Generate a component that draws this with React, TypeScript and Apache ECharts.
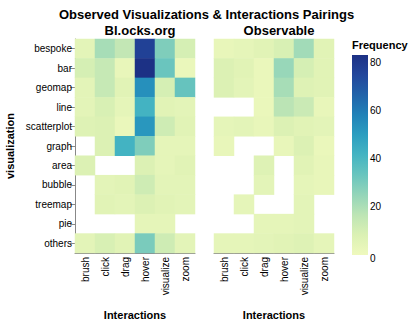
import React, { useEffect, useRef } from "react";
import * as echarts from "echarts";

const interactions = ["brush", "click", "drag", "hover", "visualize", "zoom"];
const visualizations = ["bespoke", "bar", "geomap", "line", "scatterplot", "graph", "area", "bubble", "treemap", "pie", "others"];

// rows follow visualizations, columns follow interactions; null = no observation
const blocksValues: (number | null)[][] = [
  [5, 21, 15, 77, 29, 10],
  [10, 14, 3, 83, 33, 2],
  [5, 14, 6, 54, 10, 34],
  [5, 9, 4, 42, 6, 5],
  [7, 8, 2, 52, 12, 6],
  [null, 8, 42, 29, 4, 4],
  [8, null, null, 8, 4, 6],
  [null, 5, 6, 12, 5, 5],
  [null, 6, 5, 8, 6, 5],
  [null, null, null, 4, 4, null],
  [5, 9, 6, 30, 12, 5],
];
const observableValues: (number | null)[][] = [
  [3, 4, 6, 9, 22, 6],
  [8, 6, 2, 24, 10, 6],
  [8, 5, 2, 21, 7, 6],
  [null, null, 2, 17, 13, 3],
  [4, 5, 3, 8, 6, 5],
  [3, null, null, 3, 8, 2],
  [null, null, 7, null, 6, 3],
  [null, null, 5, null, 4, 3],
  [null, 4, null, null, 5, null],
  [null, null, 4, 4, 5, null],
  [4, 4, 5, 6, 7, 4],
];
const legendTicks = [0, 20, 40, 60, 80];
const maxValue = 83;
const panelTitles = ["Bl.ocks.org", "Observable"];

const colors = ["#eff9bd", "#dbf1b4", "#bde5b5", "#94d5b9", "#69c5be", "#45b4c2", "#2c9ec0", "#2182b8", "#2163aa", "#23479c", "#1c3185"];

function toData(m: (number | null)[][]) {
  const out: [number, number, number][] = [];
  m.forEach((row, y) => row.forEach((v, x) => { if (v !== null) out.push([x, y, v]); }));
  return out;
}

const FONT = "Liberation Sans, Arial, Helvetica, sans-serif";

export default function App() {
  const ref = useRef<HTMLDivElement>(null);
  useEffect(() => {
    if (!ref.current) return;
    const chart = echarts.init(ref.current, undefined, { renderer: "svg" });
    const grids = [
      { left: 75, top: 39, width: 120, height: 220 },
      { left: 214, top: 39, width: 120, height: 220 },
    ];
    const lx = 352, ly = 55, lw = 16, lh = 200;
    const gradStops = colors
      .map((c, i) => ({ offset: 1 - i / (colors.length - 1), color: c }))
      .reverse();
    const legendGraphics: any[] = [
      {
        type: "text",
        left: lx,
        top: 39,
        style: { text: "Frequency", font: `bold 11px ${FONT}`, fill: "#000" },
      },
      {
        type: "rect",
        shape: { x: lx, y: ly, width: lw, height: lh },
        style: {
          fill: {
            type: "linear",
            x: 0,
            y: 0,
            x2: 0,
            y2: 1,
            colorStops: gradStops,
          },
        },
      },
      ...legendTicks.map((t) => ({
        type: "text",
        x: lx + lw + 2,
        y: t === 0 ? ly + lh + 3 : ly + lh - (t / maxValue) * lh,
        style: {
          text: String(t),
          font: `10px ${FONT}`,
          fill: "#000",
          textVerticalAlign: "middle",
          verticalAlign: "middle",
        },
      })),
    ];
    const axisX = (i: number) => ({
      type: "category" as const,
      gridIndex: i,
      data: interactions,
      name: "Interactions",
      nameLocation: "middle" as const,
      nameGap: 56,
      nameTextStyle: { fontFamily: FONT, fontWeight: "bold" as const, fontSize: 11, color: "#000" },
      axisLine: { lineStyle: { color: "#888" } },
      axisTick: { length: 5, alignWithLabel: true, lineStyle: { color: "#888" } },
      axisLabel: { rotate: 90, fontFamily: FONT, fontSize: 10, color: "#000", margin: 4 },
      splitLine: { show: false },
    });
    const axisY = (i: number) => ({
      type: "category" as const,
      gridIndex: i,
      data: visualizations,
      inverse: true,
      name: i === 0 ? "visualization" : "",
      nameLocation: "middle" as const,
      nameGap: 60,
      nameRotate: 90,
      nameTextStyle: { fontFamily: FONT, fontWeight: "bold" as const, fontSize: 11, color: "#000" },
      axisLine: { show: i === 0, lineStyle: { color: "#888" } },
      axisTick: { show: i === 0, length: 5, alignWithLabel: true, lineStyle: { color: "#888" } },
      axisLabel: { show: i === 0, fontFamily: FONT, fontSize: 10, color: "#000", margin: 3 },
      splitLine: { show: false },
    });
    chart.setOption({
      animation: false,
      backgroundColor: "#fff",
      title: [
        {
          text: "Observed Visualizations & Interactions Pairings",
          left: "center",
          top: 3,
          textStyle: { fontFamily: FONT, fontWeight: "bold", fontSize: 13, color: "#000" },
        },
        ...panelTitles.map((t, i) => ({
          text: t,
          left: grids[i].left + grids[i].width / 2,
          textAlign: "center",
          top: 19,
          textStyle: { fontFamily: FONT, fontWeight: "bold", fontSize: 13, color: "#000" },
        })),
      ],
      grid: grids,
      xAxis: [axisX(0), axisX(1)],
      yAxis: [axisY(0), axisY(1)],
      visualMap: {
        show: false,
        type: "continuous",
        min: 0,
        max: maxValue,
        seriesIndex: [0, 1],
        inRange: { color: colors },
      },
      series: [
        { type: "heatmap", xAxisIndex: 0, yAxisIndex: 0, data: toData(blocksValues), itemStyle: { borderWidth: 0 }, emphasis: { disabled: true } },
        { type: "heatmap", xAxisIndex: 1, yAxisIndex: 1, data: toData(observableValues), itemStyle: { borderWidth: 0 }, emphasis: { disabled: true } },
      ],
      graphic: legendGraphics,
    });
    return () => chart.dispose();
  }, []);
  return <div ref={ref} style={{ position: "fixed", left: 0, top: 0, width: 413, height: 325 }} />;
}
